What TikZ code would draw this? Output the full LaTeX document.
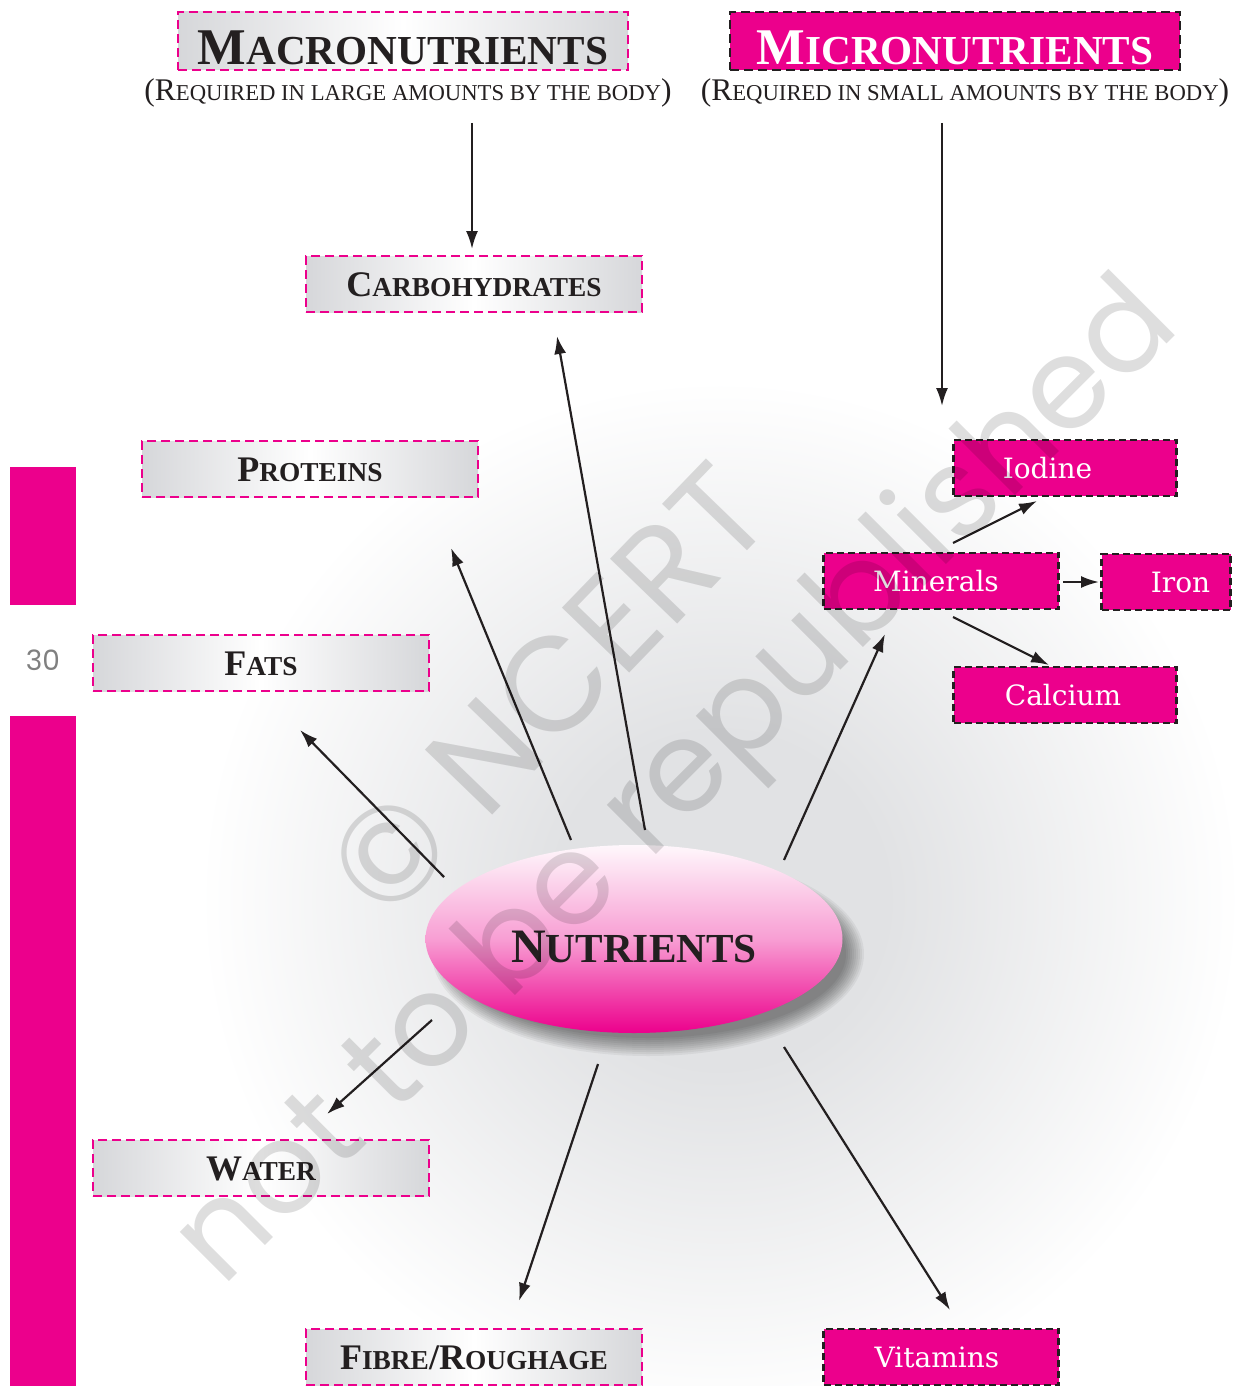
\documentclass[tikz,border=0pt]{standalone}
\usepackage{fontspec}
\usepackage{graphicx}
\usetikzlibrary{arrows.meta,shapes.geometric}

\setmainfont{Liberation Serif}
\newfontfamily\boxfont{DejaVu Serif}
\newfontfamily\markfont{Poppins}

\definecolor{ncpink}{HTML}{EC008C}
\definecolor{boxgray}{HTML}{D6D7DA}
\definecolor{bggray}{HTML}{E1E2E4}
\definecolor{inkdark}{HTML}{231F20}

% small capitals made by hand
\newcommand\lowcap[2][0.76]{\scalebox{#1}{#2}}

\pgfdeclareradialshading{glow}{\pgfpoint{0bp}{0bp}}{color(0bp)=(bggray); color(8bp)=(bggray); color(25bp)=(white); color(50bp)=(white)}

\tikzset{
	graybox/.style={draw=ncpink, dash pattern=on 9pt off 5pt, line width=2.5pt,
		left color=boxgray, right color=boxgray, middle color=white,
		minimum width=336pt, minimum height=56pt, inner sep=0pt,
		text=inkdark, text height=24pt, text depth=0pt,
		font=\bfseries\fontsize{36}{36}\selectfont},
	pinkbox/.style={draw=inkdark, dash pattern=on 7pt off 4pt, line width=2.5pt, fill=ncpink,
		minimum height=56pt, inner sep=0pt,
		text=white, text height=20pt, text depth=0pt,
		font=\boxfont\fontsize{28}{28}\selectfont},
	headbox/.style={dash pattern=on 9pt off 5pt, line width=2.5pt,
		minimum width=450pt, minimum height=58pt, inner sep=0pt,
		text height=48pt, text depth=0pt,
		font=\bfseries\fontsize{51.5}{51.5}\selectfont},
	subline/.style={text=inkdark, anchor=base, inner sep=0pt, font=\fontsize{31.5}{31.5}\selectfont},
	arr/.style={draw=inkdark, line width=2.2pt, -{Latex[length=18pt,width=12pt]}},
	markstyle/.style={opacity=0.13, font=\markfont\fontsize{134}{134}\selectfont}
}

\begin{document}
\begin{tikzpicture}[x=1pt, y=-1pt]

	% page and background glow
	\fill[white] (0,0) rectangle (1237,1386);
	\begin{scope}
		\clip (0,0) rectangle (1237,1386);
		\shade[shading=glow] (720,900) circle (520);
	\end{scope}
	\useasboundingbox (0,0) rectangle (1237,1386);

	% side bar and page number
	\fill[ncpink] (10,467) rectangle (76,605);
	\fill[ncpink] (10,716) rectangle (76,1386);
	\node[text=gray, font=\markfont\fontsize{28}{28}\selectfont] (page) at (43,660) {30};

	% headings
	\node[headbox, draw=ncpink, left color=boxgray, right color=boxgray, middle color=white, text=inkdark] (macro) at (403,41) {M\lowcap[0.8]{ACRONUTRIENTS}};
	\node[subline] (macrosub) at (408,101) {(R\lowcap[0.72]{EQUIRED IN LARGE AMOUNTS BY THE BODY})};

	\node[headbox, draw=inkdark, fill=ncpink, text=white] (micro) at (955,41) {M\lowcap[0.8]{ICRONUTRIENTS}};
	\node[subline] (microsub) at (965,101) {(R\lowcap[0.72]{EQUIRED IN SMALL AMOUNTS BY THE BODY})};

	% macronutrients
	\node[graybox] (carb) at (474,284) {C\lowcap{ARBOHYDRATES}};
	\node[graybox] (prot) at (310,469) {P\lowcap{ROTEINS}};
	\node[graybox] (fats) at (261,663) {F\lowcap{ATS}};
	\node[graybox] (water) at (261,1168) {W\lowcap{ATER}};
	\node[graybox] (fibre) at (474,1357) {F\lowcap{IBRE}/R\lowcap{OUGHAGE}};

	% micronutrients
	\node[pinkbox, minimum width=223pt] (iod) at (1065,468) {Iodine\hspace*{35pt}};
	\node[pinkbox, minimum width=235pt] (min) at (941,581) {Minerals\hspace*{10pt}};
	\node[pinkbox, minimum width=129pt] (iron) at (1166,582) {\hspace*{29pt}Iron};
	\node[pinkbox, minimum width=223pt] (cal) at (1065,695) {Calcium\hspace*{4pt}};
	\node[pinkbox, minimum width=235pt] (vit) at (941,1357) {Vitamins\hspace*{8pt}};

	% the ellipse and its soft shadow
	\foreach \k in {0,...,9} {
		\fill[black, opacity=0.05] (648,954) ellipse ({216-2*\k} and {102-2*\k});
	}
	\node[ellipse, minimum width=417pt, minimum height=188pt, inner sep=0pt,
		top color=ncpink!3, bottom color=ncpink, middle color=ncpink!38,
		text=inkdark, text height=46pt, text depth=0pt,
		font=\bfseries\fontsize{48}{48}\selectfont] (nut) at (634,939) {N\lowcap[0.86]{UTRIENTS}};

	% arrow ends
	\coordinate (macro-out) at (472,123);
	\coordinate (carb-top) at (472,249);
	\coordinate (micro-out) at (942,123);
	\coordinate (min-top) at (942,406);
	\coordinate (nut-carb) at (645,830);
	\coordinate (carb-in) at (557,336);
	\coordinate (nut-prot) at (571,840);
	\coordinate (prot-in) at (451,548);
	\coordinate (nut-fats) at (444,877);
	\coordinate (fats-in) at (300,730);
	\coordinate (nut-water) at (432,1020);
	\coordinate (water-in) at (327,1114);
	\coordinate (nut-fibre) at (598,1064);
	\coordinate (fibre-in) at (519,1301);
	\coordinate (nut-vit) at (784,1047);
	\coordinate (vit-in) at (950,1310);
	\coordinate (nut-min) at (784,860);
	\coordinate (min-in) at (885,634);
	\coordinate (min-iod) at (953,543);
	\coordinate (iod-in) at (1037,501);
	\coordinate (min-iron) at (1063,582);
	\coordinate (iron-in) at (1099,582);
	\coordinate (min-cal) at (953,617);
	\coordinate (cal-in) at (1049,665);

	% arrows
	\foreach \a/\b in {macro-out/carb-top, micro-out/min-top, nut-carb/carb-in, nut-prot/prot-in,
		nut-fats/fats-in, nut-water/water-in, nut-fibre/fibre-in, nut-vit/vit-in, nut-min/min-in,
		min-iod/iod-in, min-iron/iron-in, min-cal/cal-in} {
		\draw[arr] (\a) -- (\b);
	}

	% watermark
	\node[markstyle, rotate=46] (mark1) at (548,690) {© NCERT};
	\node[markstyle, rotate=45, font=\markfont\fontsize{127}{127}\selectfont] (mark2) at (680,786) {not to be republished};

\end{tikzpicture}
\end{document}
